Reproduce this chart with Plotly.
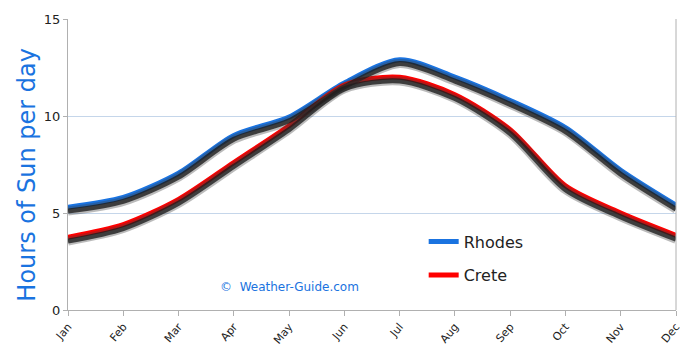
import plotly.graph_objects as go

months = ["Jan", "Feb", "Mar", "Apr", "May", "Jun", "Jul", "Aug", "Sep", "Oct", "Nov", "Dec"]
rhodes = [5.3, 5.8, 7.05, 9.0, 9.95, 11.7, 12.9, 12.0, 10.8, 9.4, 7.2, 5.4]
crete = [3.75, 4.4, 5.7, 7.6, 9.5, 11.6, 12.0, 11.1, 9.3, 6.4, 5.0, 3.85]
yticks = [0, 5, 10, 15]

BLUE = "#1a73e0"
RED = "#ff0000"
FONT = "DejaVu Sans"

fig = go.Figure()
# soft shadows (on a hidden, slightly shifted axis)
for s in (rhodes, crete):
    fig.add_trace(go.Scatter(x=months, y=s, mode="lines", yaxis="y2",
                             line=dict(color="rgba(60,60,60,0.35)", width=9, shape="spline", smoothing=0.8),
                             showlegend=False, hoverinfo="skip"))
    fig.add_trace(go.Scatter(x=months, y=s, mode="lines", yaxis="y2",
                             line=dict(color="rgba(30,30,30,0.8)", width=5, shape="spline", smoothing=0.8),
                             showlegend=False, hoverinfo="skip"))
fig.add_trace(go.Scatter(x=months, y=rhodes, name="Rhodes", mode="lines", legend="legend",
                         line=dict(color=BLUE, width=5, shape="spline", smoothing=0.8)))
fig.add_trace(go.Scatter(x=months, y=crete, name="Crete", mode="lines", legend="legend2",
                         line=dict(color=RED, width=5, shape="spline", smoothing=0.8)))

leg = dict(xanchor="left", yanchor="middle", bgcolor="rgba(0,0,0,0)",
           font=dict(size=16, color="#222", family=FONT), itemwidth=30)
fig.update_layout(
    width=690, height=353,
    margin=dict(l=68, r=14, t=19, b=43, autoexpand=False),
    paper_bgcolor="white", plot_bgcolor="white",
    font=dict(family=FONT, color="#222"),
    xaxis=dict(range=[0, 11], showline=True, linecolor="#b0b0b0", linewidth=1, automargin=False,
               ticks="outside", ticklen=5, tickcolor="#b0b0b0", tickangle=-50,
               tickfont=dict(size=11, color="#222", family=FONT), showgrid=False, zeroline=False),
    yaxis=dict(range=[0, 15], tickvals=yticks, showline=True, linecolor="#b0b0b0", linewidth=1,
               automargin=False, ticks="outside", ticklen=4, tickcolor="#b0b0b0",
               tickfont=dict(size=13, color="#222", family=FONT),
               showgrid=True, gridcolor="#c5d6ea", gridwidth=1, zeroline=False),
    yaxis2=dict(range=[0.2, 15.2], overlaying="y", visible=False),
    legend=dict(x=0.585, y=0.235, **leg),
    legend2=dict(x=0.585, y=0.12, **leg),
    showlegend=True,
)
fig.add_shape(type="line", xref="paper", yref="paper", x0=1, x1=1, y0=0, y1=1,
              line=dict(color="#b0b0b0", width=1))
fig.add_annotation(text="Hours of Sun per day", xref="paper", yref="paper", x=-0.068, y=0.464,
                   xanchor="center", yanchor="middle", textangle=-90, showarrow=False,
                   font=dict(size=24, color=BLUE, family=FONT))
fig.add_annotation(text="©  Weather-Guide.com", xref="paper", yref="paper", x=0.247, y=0.08,
                   xanchor="left", yanchor="middle", showarrow=False,
                   font=dict(size=12, color=BLUE, family=FONT))
fig.write_html("out.html")
